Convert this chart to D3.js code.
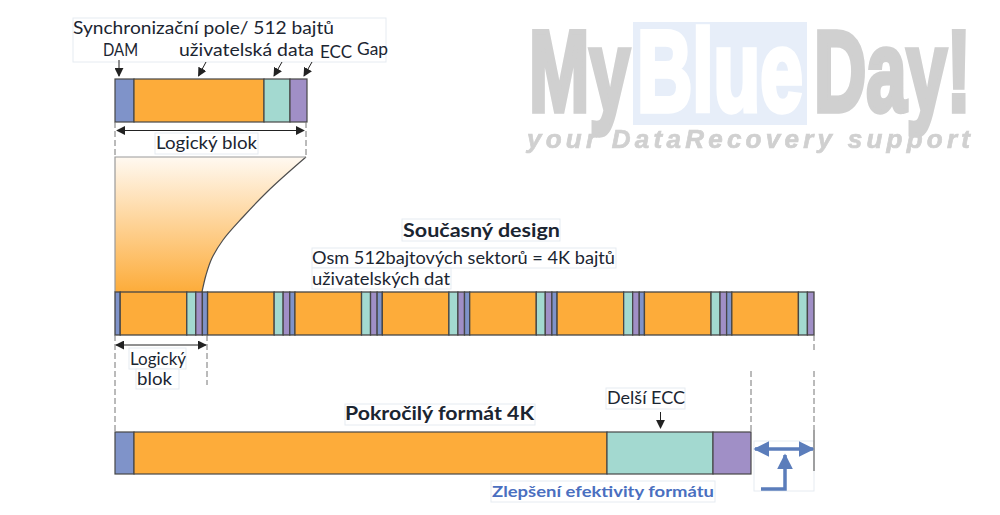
<!DOCTYPE html>
<html>
<head>
<meta charset="utf-8">
<script src="https://cdn.jsdelivr.net/npm/d3@7"></script>
<style>
  html, body { margin: 0; background: #fff; }
  svg { display: block; }
  text { font-family: Lato, "Open Sans", sans-serif; fill: #1b2531; }
</style>
</head>
<body>
<script>
// segment names and lengths
const segmentNames = ['DAM', 'data', 'ECC', 'Gap'];
const logicalBlock = [19, 130, 26, 17];
const currentSector = [5.2, 66.6, 9, 6.6];
const sectorCount = 8;
const advancedFormat = [19, 473, 106, 38];

// edge of the fan from the logical block to the first sector
const fanEdgeX = [191, 152, 128, 108, 97, 91, 87];
const fanEdgeY = [0, 35, 60, 83, 101, 118, 135];

const labels = {
  sync: 'Synchronizační pole/ 512 bajtů',
  dam: 'DAM',
  userData: 'uživatelská data',
  ecc: 'ECC',
  gap: 'Gap',
  block: 'Logický blok',
  current: 'Současný design',
  eight: 'Osm 512bajtových sektorů = 4K bajtů',
  eightData: 'uživatelských dat',
  blockA: 'Logický',
  blockB: 'blok',
  advanced: 'Pokročilý formát 4K',
  longEcc: 'Delší ECC',
  gain: 'Zlepšení efektivity formátu'
};

const w = 1000;
const h = 515;

const svg = d3.select('body').append('svg')
  .attr('width', w)
  .attr('height', h);

const defs = svg.append('defs');

const grad = defs.append('linearGradient')
  .attr('id', 'fan')
  .attr('x1', 0).attr('y1', 0).attr('x2', 0).attr('y2', 1);
grad.append('stop').attr('offset', '0%').attr('stop-color', '#fff9f1');
grad.append('stop').attr('offset', '100%').attr('stop-color', '#fdac3a');

defs.append('filter').attr('id', 'soft')
  .append('feGaussianBlur').attr('stdDeviation', 0.6);

function arrowHead(id, color, size) {
  defs.append('marker')
    .attr('id', id)
    .attr('viewBox', '0 0 10 10')
    .attr('refX', 9).attr('refY', 5)
    .attr('markerUnits', 'userSpaceOnUse')
    .attr('markerWidth', size).attr('markerHeight', size)
    .attr('orient', 'auto-start-reverse')
    .append('path')
    .attr('d', 'M0,0 L10,5 L0,10 Z')
    .attr('fill', color);
}
arrowHead('head', '#222', 9);
arrowHead('headBlue', '#5b7dbb', 16);

const color = d3.scaleOrdinal()
  .domain(segmentNames)
  .range(['#7f93c9', '#fdac3a', '#a3d9d0', '#a08fc6']);

// turns a list of lengths into start/end pairs
function stack(values, names) {
  let pos = 0;
  return values.map((v, i) => {
    const seg = { name: names[i % names.length], start: pos, end: pos + v };
    pos += v;
    return seg;
  });
}

function drawRow(segs, x, top, height, line) {
  svg.append('g').selectAll('rect')
    .data(segs)
    .enter()
    .append('rect')
    .attr('x', d => x(d.start))
    .attr('y', top)
    .attr('width', d => x(d.end) - x(d.start))
    .attr('height', height)
    .attr('fill', d => color(d.name))
    .attr('stroke', '#464646')
    .attr('stroke-width', line);
}

const topX = d3.scaleLinear().domain([0, d3.sum(logicalBlock)]).range([115, 307]);
const midX = d3.scaleLinear().domain([0, d3.sum(currentSector) * sectorCount]).range([115, 814]);
const lowX = d3.scaleLinear().domain([0, d3.sum(advancedFormat)]).range([115, 751]);

// logo in the corner, words get squeezed with a transform after measuring
const logo = svg.append('g').attr('filter', 'url(#soft)');
logo.append('rect')
  .attr('x', 633).attr('y', 22).attr('width', 174).attr('height', 103)
  .attr('fill', '#e7eef9');
function logoWord(txt, x, len, fill) {
  const t = logo.append('text')
    .style('font-family', '"Liberation Sans", sans-serif')
    .style('font-weight', 700)
    .style('font-size', '100px')
    .style('fill', fill)
    .style('stroke', fill)
    .style('stroke-width', 4.5)
    .style('vector-effect', 'non-scaling-stroke')
    .text(txt);
  const sx = len / t.node().getBBox().width;
  t.attr('transform', `translate(${x},111) scale(${sx},1.15)`);
}
logoWord('My', 529, 101, '#d0d0d0');
logoWord('Blue', 637, 166, '#fff');
logoWord('Day!', 814, 157, '#d0d0d0');
logo.append('text')
  .attr('x', 527).attr('y', 148)
  .style('font-family', '"Liberation Sans", sans-serif')
  .style('font-weight', 700).style('font-style', 'italic')
  .style('font-size', '26px')
  .style('letter-spacing', '4.25px')
  .style('fill', '#d0d0d0')
  .style('stroke', '#d0d0d0')
  .style('stroke-width', 0.7)
  .text('your DataRecovery support');

// faint boxes behind the pasted text
const boxes = [
  [73, 18, 313, 44], [155, 133, 103, 21], [312, 248, 304, 20], [312, 268, 139, 21],
  [402, 219, 158, 22], [129, 348, 57, 21], [136, 369, 43, 20], [345, 404, 190, 21],
  [606, 388, 79, 21], [491, 481, 224, 21], [754, 441, 60, 50]
];
svg.append('g').selectAll('rect')
  .data(boxes)
  .enter()
  .append('rect')
  .attr('x', d => d[0]).attr('y', d => d[1])
  .attr('width', d => d[2]).attr('height', d => d[3])
  .attr('fill', '#fff')
  .attr('stroke', '#e6ebf1');

// the fan
const fanLine = d3.line()
  .x(d => topX(d[0]))
  .y(d => 157 + d[1])
  .curve(d3.curveMonotoneY);
const edge = fanEdgeX.map((v, i) => [v, fanEdgeY[i]]);
svg.append('path')
  .attr('d', fanLine(edge) + ' L' + topX(0) + ',292 L' + topX(0) + ',157 Z')
  .attr('fill', 'url(#fan)');
svg.append('path')
  .attr('d', fanLine(edge))
  .attr('fill', 'none')
  .attr('stroke', '#4d4d4d')
  .attr('stroke-width', 1.2);
svg.append('path')
  .attr('d', 'M115,292 L115,157 L306,157')
  .attr('fill', 'none')
  .attr('stroke', '#9a9a9a')
  .attr('stroke-width', 1.2);

// the three bars
drawRow(stack(logicalBlock, segmentNames), topX, 79, 43, 1.2);
const allSectors = d3.range(sectorCount).flatMap(() => currentSector);
drawRow(stack(allSectors, segmentNames), midX, 292, 43, 1.3);
drawRow(stack(advancedFormat, segmentNames), lowX, 432, 42, 1.2);

// dashed guides
const dashes = [
  [115, 122, 115, 157], [306, 122, 306, 157],
  [115, 335, 115, 432], [207, 335, 207, 385],
  [751, 371, 751, 432], [814, 335, 814, 350], [814, 371, 814, 430]
];
svg.append('g').selectAll('line')
  .data(dashes)
  .enter()
  .append('line')
  .attr('x1', d => d[0]).attr('y1', d => d[1])
  .attr('x2', d => d[2]).attr('y2', d => d[3])
  .attr('stroke', '#777')
  .attr('stroke-width', 1)
  .attr('stroke-dasharray', '6,3');

svg.append('line')
  .attr('x1', 814).attr('y1', 430).attr('x2', 814).attr('y2', 471)
  .attr('stroke', '#666')
  .attr('stroke-width', 1.2);

function arrow(x1, y1, x2, y2, both) {
  svg.append('line')
    .attr('x1', x1).attr('y1', y1).attr('x2', x2).attr('y2', y2)
    .attr('stroke', '#222')
    .attr('stroke-width', 1)
    .attr('marker-end', 'url(#head)')
    .attr('marker-start', both ? 'url(#head)' : null);
}
arrow(119, 60, 119, 76);
arrow(206, 62, 198.5, 76);
arrow(282, 62, 274, 76);
arrow(312, 62, 304, 76);
arrow(117, 130.5, 304, 130.5, true);
arrow(116, 345, 206, 345, true);
arrow(660.5, 412, 660.5, 428);

// blue arrows at the saved space
svg.append('line')
  .attr('x1', 755).attr('y1', 449).attr('x2', 813).attr('y2', 449)
  .attr('stroke', '#5b7dbb')
  .attr('stroke-width', 3.5)
  .attr('marker-start', 'url(#headBlue)')
  .attr('marker-end', 'url(#headBlue)');
svg.append('path')
  .attr('d', 'M761,489 L785,489 L785,455')
  .attr('fill', 'none')
  .attr('stroke', '#5b7dbb')
  .attr('stroke-width', 3.5)
  .attr('marker-end', 'url(#headBlue)');

function label(txt, x, y, len, size, bold, fill) {
  const t = svg.append('text')
    .attr('x', x).attr('y', y)
    .attr('textLength', len).attr('lengthAdjust', 'spacingAndGlyphs')
    .style('font-size', size + 'px')
    .style('font-weight', bold ? 700 : 400)
    .text(txt);
  if (fill) t.style('fill', fill);
}
label(labels.sync, 73, 34, 261, 18);
label(labels.dam, 103, 56, 35, 16.5);
label(labels.userData, 179, 56, 135, 18);
label(labels.ecc, 320, 58, 32, 16.5);
label(labels.gap, 357, 55, 31, 16.5);
label(labels.block, 156, 149, 101, 17);
label(labels.current, 403, 237, 157, 18.5, true);
label(labels.eight, 312, 264, 303, 17);
label(labels.eightData, 312, 285, 138, 17);
label(labels.blockA, 130, 365, 56, 17);
label(labels.blockB, 137, 385, 35, 17);
label(labels.advanced, 345, 420, 189, 18.5, true);
label(labels.longEcc, 607, 404, 78, 17);
label(labels.gain, 492, 497, 222, 16, true, '#4a6fc0');
</script>
</body>
</html>
